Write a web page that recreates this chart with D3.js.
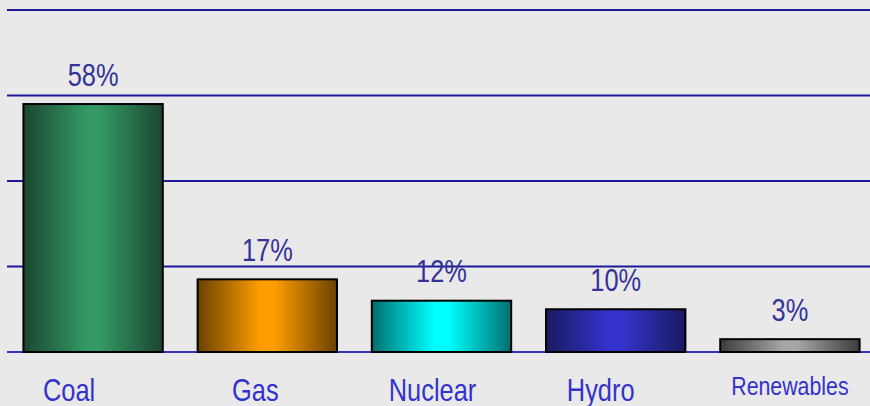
<!DOCTYPE html>
<html>
<head>
<meta charset="utf-8">
<script src="https://cdn.jsdelivr.net/npm/d3@7"></script>
<style>
  html, body { margin: 0; padding: 0; background: #e9e9e9; }
  svg { display: block; font-family: "Liberation Sans", Arial, sans-serif; }
</style>
</head>
<body>
<div id="chart"></div>
<script>
// data
var categories = ['Coal', 'Gas', 'Nuclear', 'Hydro', 'Renewables'];
var shares = [58, 17, 12, 10, 3];
var yTicks = [0, 20, 40, 60, 80];

// bar colours: edge / middle of the cylinder shading
var edgeColors = ['#1b4630', '#6a4200', '#006e6e', '#1a1a60', '#3c3c3c'];
var midColors = ['#339966', '#ff9c00', '#00ffff', '#3333cc', '#a6a6a6'];

// layout
var width = 870,
    height = 406;
var labelShift = [-24, -12, -9, -15, 0]; // category labels sit a bit left of the bars
var squeeze = 0.82;

var x = d3.scaleBand()
    .domain(categories)
    .range([6, 877])
    .paddingInner(0.2)
    .paddingOuter(0.1);

var y = d3.scaleLinear()
    .domain([0, 80])
    .range([352, 10]);

var svg = d3.select('#chart').append('svg')
    .attr('width', width)
    .attr('height', height)
    .style('background', '#e9e9e9');

var defs = svg.append('defs');
categories.forEach(function(c, i) {
    var g = defs.append('linearGradient')
        .attr('id', 'grad' + i)
        .attr('x1', '0%').attr('x2', '100%')
        .attr('y1', '0%').attr('y2', '0%');
    g.append('stop').attr('offset', '0%').attr('stop-color', edgeColors[i]);
    g.append('stop').attr('offset', '45%').attr('stop-color', midColors[i]);
    g.append('stop').attr('offset', '55%').attr('stop-color', midColors[i]);
    g.append('stop').attr('offset', '100%').attr('stop-color', edgeColors[i]);
});

// gridlines
svg.append('g')
    .selectAll('line').data(yTicks)
    .enter().append('line')
        .attr('x1', 7)
        .attr('x2', width)
        .attr('y1', function(d) { return y(d); })
        .attr('y2', function(d) { return y(d); })
        .style('stroke', function(d) { return d === 0 ? '#3333bb' : '#1a1a99'; })
        .style('stroke-width', 2);

// bars
svg.append('g')
    .selectAll('rect').data(shares)
    .enter().append('rect')
        .attr('x', function(d, i) { return x(categories[i]); })
        .attr('y', function(d) { return y(d); })
        .attr('width', x.bandwidth())
        .attr('height', function(d) { return y(0) - y(d); })
        .style('fill', function(d, i) { return 'url(#grad' + i + ')'; })
        .style('stroke', '#000')
        .style('stroke-width', 2);

// value labels
svg.append('g')
    .selectAll('text').data(shares)
    .enter().append('text')
        .attr('transform', function(d, i) {
            var cx = x(categories[i]) + x.bandwidth() / 2;
            return 'translate(' + cx + ',' + (y(d) - 18.5) + ') scale(' + squeeze + ',1)';
        })
        .attr('text-anchor', 'middle')
        .style('font-size', '31px')
        .style('fill', '#333399')
        .text(function(d) { return d + '%'; });

// category labels
svg.append('g')
    .selectAll('text').data(categories)
    .enter().append('text')
        .attr('transform', function(d, i) {
            var cx = x(d) + x.bandwidth() / 2 + labelShift[i];
            var by = d === 'Renewables' ? 395 : 401;
            return 'translate(' + cx + ',' + by + ') scale(' + squeeze + ',1)';
        })
        .attr('text-anchor', 'middle')
        .style('font-size', function(d) { return d === 'Renewables' ? '26px' : '31px'; })
        .style('fill', '#3333cc')
        .text(function(d) { return d; });
</script>
</body>
</html>
